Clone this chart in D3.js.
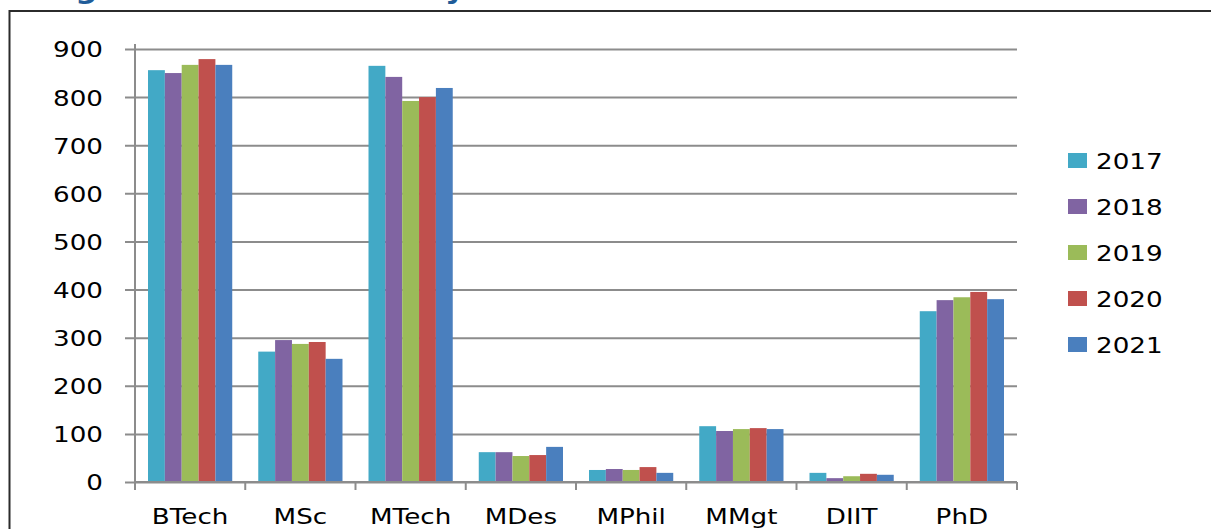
<!DOCTYPE html>
<html>
<head>
<meta charset="utf-8">
<script src="https://cdn.jsdelivr.net/npm/d3@7"></script>
<style>
  body { margin: 0; background: #fff; }
  svg text { font-family: "DejaVu Sans", sans-serif; fill: #000; }
</style>
</head>
<body>
<div id="chart"></div>
<script>
// chart data
const programs = ["BTech", "MSc", "MTech", "MDes", "MPhil", "MMgt", "DIIT", "PhD"];
const years = ["2017", "2018", "2019", "2020", "2021"];
const y2017 = [856, 271, 865, 62, 25, 116, 19, 355];
const y2018 = [850, 295, 842, 62, 27, 106, 8, 378];
const y2019 = [867, 287, 792, 54, 25, 110, 12, 384];
const y2020 = [879, 291, 800, 56, 31, 112, 17, 395];
const y2021 = [867, 256, 819, 73, 19, 110, 15, 380];
const yTicks = [0, 100, 200, 300, 400, 500, 600, 700, 800, 900];
const colors = ["#42a9c6", "#8064a2", "#9bbb59", "#c0504d", "#4a7fbe"];

const series = [y2017, y2018, y2019, y2020, y2021];
const rows = programs.map((p, i) => ({ key: p, values: years.map((yr, j) => ({ year: yr, value: series[j][i] })) }));

const W = 1211, H = 529;
const plotLeft = 135, plotRight = 1017, plotTop = 49, plotBottom = 482;
const stretch = 1.19;

const svg = d3.select("#chart").append("svg")
  .attr("width", W)
  .attr("height", H);

// title (mostly cut off above the frame, as in the source image)
svg.append("text")
  .attr("x", 24)
  .attr("y", -2)
  .attr("transform", `scale(${stretch},1)`)
  .style("font-size", "26px")
  .style("font-weight", "bold")
  .style("fill", "#1f5c99")
  .text("Degree wise Students by Year");

// outer frame
svg.append("rect")
  .attr("x", 9.5).attr("y", 11)
  .attr("width", W + 10).attr("height", H + 10)
  .attr("fill", "none")
  .attr("stroke", "#2b2b2b")
  .attr("stroke-width", 2);

const x = d3.scaleBand()
  .domain(programs)
  .range([plotLeft, plotRight])
  .paddingInner(0.236)
  .paddingOuter(0.118);

const xs = d3.scaleBand()
  .domain(years)
  .range([0, x.bandwidth()]);

const y = d3.scaleLinear()
  .domain([0, 900])
  .range([plotBottom, plotTop]);

// gridlines + y axis
const yAxis = svg.append("g")
  .attr("transform", `translate(${plotLeft},0)`)
  .call(d3.axisLeft(y).tickValues(yTicks).tickSize(10).tickFormat(d3.format("d")));
yAxis.select(".domain").attr("stroke", "#8c8c8c").attr("stroke-width", 2).attr("d", `M0,${plotTop - 5}V${plotBottom}`);
yAxis.selectAll(".tick line").attr("stroke", "#8c8c8c").attr("stroke-width", 2)
  .attr("x1", -10).attr("x2", plotRight - plotLeft);
yAxis.selectAll(".tick text")
  .style("font-size", "22px")
  .attr("x", null)
  .attr("text-anchor", "end")
  .attr("dy", "0.36em")
  .attr("transform", `translate(-32,0) scale(${stretch},1)`);

// bars
const groups = svg.selectAll(".grp")
  .data(rows)
  .enter()
  .append("g")
  .attr("transform", d => `translate(${x(d.key)},0)`);

groups.selectAll("rect")
  .data(d => d.values)
  .enter()
  .append("rect")
  .attr("x", d => xs(d.year))
  .attr("y", d => y(d.value))
  .attr("width", xs.bandwidth())
  .attr("height", d => plotBottom - y(d.value))
  .attr("fill", (d, i) => colors[i]);

// x axis
const step = (plotRight - plotLeft) / programs.length;
const xAxis = svg.append("g").attr("transform", `translate(0,${plotBottom})`);
xAxis.append("line")
  .attr("x1", plotLeft).attr("x2", plotRight)
  .attr("stroke", "#8c8c8c").attr("stroke-width", 2);
xAxis.selectAll(".xt")
  .data(d3.range(programs.length + 1))
  .enter()
  .append("line")
  .attr("x1", i => plotLeft + i * step).attr("x2", i => plotLeft + i * step)
  .attr("y1", 0).attr("y2", 8)
  .attr("stroke", "#8c8c8c").attr("stroke-width", 2);
xAxis.selectAll(".xl")
  .data(programs)
  .enter()
  .append("text")
  .attr("text-anchor", "middle")
  .attr("transform", d => `translate(${x(d) + x.bandwidth() / 2},42) scale(${stretch},1)`)
  .style("font-size", "22px")
  .text(d => d);

// legend
const legend = svg.append("g");
const li = legend.selectAll("g")
  .data(years)
  .enter()
  .append("g")
  .attr("transform", (d, i) => `translate(1068,${161 + i * 46})`);
li.append("rect")
  .attr("x", 0).attr("y", -8)
  .attr("width", 19).attr("height", 15)
  .attr("fill", (d, i) => colors[i]);
li.append("text")
  .attr("transform", `translate(28,8) scale(${stretch},1)`)
  .style("font-size", "22px")
  .text(d => d);
</script>
</body>
</html>
